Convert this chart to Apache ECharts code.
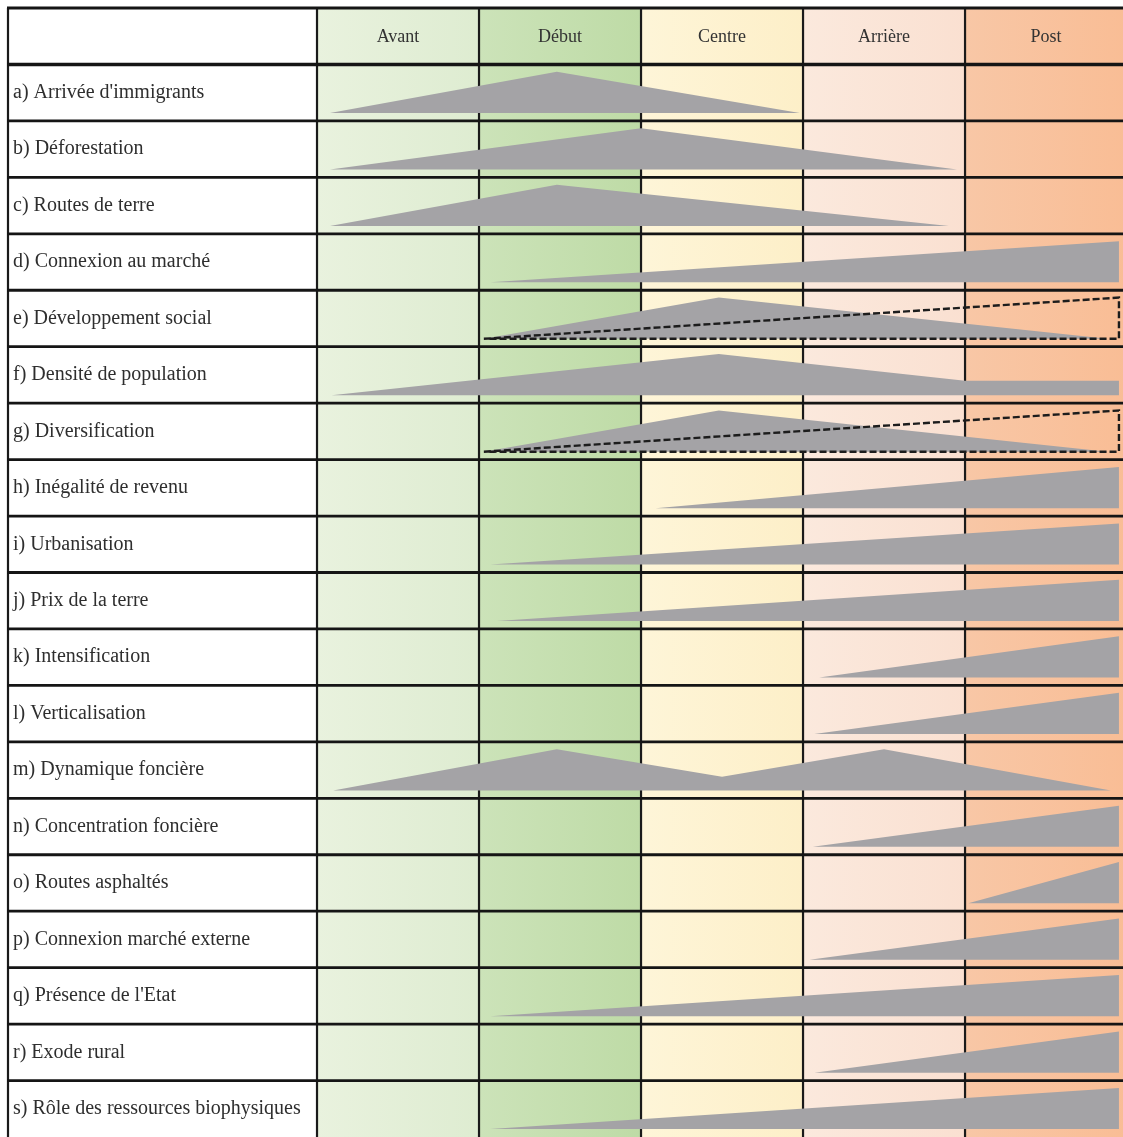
<!DOCTYPE html>
<html>
<head>
<meta charset="utf-8">
<script src="https://cdn.jsdelivr.net/npm/echarts@6/dist/echarts.min.js"></script>
<style>
html, body { margin: 0; padding: 0; background: #fff; }
#chart { width: 1123px; height: 1137px; }
</style>
</head>
<body>
<div id="chart"></div>
<script>
const phases = ["Avant", "Début", "Centre", "Arrière", "Post"];

const indicators = [
    "a) Arrivée d'immigrants",
    "b) Déforestation",
    "c) Routes de terre",
    "d) Connexion au marché",
    "e) Développement social",
    "f) Densité de population",
    "g) Diversification",
    "h) Inégalité de revenu",
    "i) Urbanisation",
    "j) Prix de la terre",
    "k) Intensification",
    "l) Verticalisation",
    "m) Dynamique foncière",
    "n) Concentration foncière",
    "o) Routes asphaltés",
    "p) Connexion marché externe",
    "q) Présence de l'Etat",
    "r) Exode rural",
    "s) Rôle des ressources biophysiques"
];

// [position along the phases (0..5), relative intensity (0..1)]
const profiles = [
    [[0.08, 0], [1.48, 1], [2.98, 0]],
    [[0.08, 0], [2.0, 1], [3.95, 0]],
    [[0.08, 0], [1.48, 1], [3.9, 0]],
    [[1.07, 0], [4.95, 1], [4.95, 0]],
    [[1.03, 0], [2.48, 1], [4.88, 0]],
    [[0.09, 0], [2.48, 1], [4.0, 0.35], [4.95, 0.35], [4.95, 0]],
    [[1.03, 0], [2.48, 1], [4.88, 0]],
    [[2.09, 0], [4.95, 1], [4.95, 0]],
    [[1.07, 0], [4.95, 1], [4.95, 0]],
    [[1.11, 0], [4.95, 1], [4.95, 0]],
    [[3.1, 0], [4.95, 1], [4.95, 0]],
    [[3.07, 0], [4.95, 1], [4.95, 0]],
    [[0.1, 0], [1.48, 1], [2.5, 0.33], [3.5, 1], [4.9, 0]],
    [[3.06, 0], [4.95, 1], [4.95, 0]],
    [[4.02, 0], [4.95, 1], [4.95, 0]],
    [[3.04, 0], [4.95, 1], [4.95, 0]],
    [[1.07, 0], [4.95, 1], [4.95, 0]],
    [[3.07, 0], [4.95, 1], [4.95, 0]],
    [[1.07, 0], [4.95, 1], [4.95, 0]]
];

// expected trend (dashed outline) for e) and g)
const dashed_rows = [4, 6];
const dashed_profile = [[1.03, 0], [4.95, 1], [4.95, 0]];

// styles
const phase_fills = [
    ["#e9f2de", "#deecd1"],
    ["#cce3b9", "#bedba6"],
    ["#fef5d8", "#fdefc8"],
    ["#fbe9dd", "#fae0d1"],
    ["#f8c7a6", "#f9bd95"]
];
const shape_color = "#a4a3a6";
const LABEL_W = 309 / 162;   // label column width, in phase units
const BASE = 0.86, PEAK = 0.13;
const n_rows = indicators.length + 1;
const serif = "'Liberation Serif', 'DejaVu Serif', serif";

function rowPoint(api, row, p){
    return api.coord([p[0], row + 1 + BASE - p[1] * (BASE - PEAK)]);
}

const chart = echarts.init(document.getElementById("chart"), null, { renderer: "canvas" });

chart.setOption({
    animation: false,
    grid: { left: 8, right: 0, top: 8, bottom: 0 },
    xAxis: { type: "value", min: -LABEL_W, max: 4.975, show: false },
    yAxis: { type: "value", min: 0, max: n_rows, inverse: true, show: false },
    series: [
        {   // phase columns
            type: "custom", z: 1, clip: false,
            data: phases.map((_, i) => [i]),
            renderItem(params, api){
                const i = api.value(0);
                const a = api.coord([i, 0]), b = api.coord([i + 1, n_rows]);
                return {
                    type: "rect",
                    shape: { x: a[0], y: a[1], width: b[0] - a[0], height: b[1] - a[1] },
                    style: {
                        fill: new echarts.graphic.LinearGradient(0, 0, 1, 0, [
                            { offset: 0, color: phase_fills[i][0] },
                            { offset: 1, color: phase_fills[i][1] }
                        ])
                    }
                };
            }
        },
        {   // vertical borders
            type: "custom", z: 2, clip: false,
            data: [-LABEL_W, 0, 1, 2, 3, 4].map((x) => [x]),
            renderItem(params, api){
                const a = api.coord([api.value(0), 0]), b = api.coord([api.value(0), n_rows]);
                return {
                    type: "line",
                    shape: { x1: a[0], y1: a[1], x2: b[0], y2: b[1] },
                    style: { stroke: "#1a1a1a", lineWidth: 2.2 }
                };
            }
        },
        {   // grey profiles
            type: "custom", z: 3, clip: false,
            data: profiles.map((_, i) => [i]),
            renderItem(params, api){
                const r = api.value(0);
                return {
                    type: "polygon",
                    shape: { points: profiles[r].map((p) => rowPoint(api, r, p)) },
                    style: { fill: shape_color }
                };
            }
        },
        {   // dashed outlines
            type: "custom", z: 4, clip: false,
            data: dashed_rows.map((r) => [r]),
            renderItem(params, api){
                const r = api.value(0);
                return {
                    type: "polygon",
                    shape: { points: dashed_profile.map((p) => rowPoint(api, r, p)) },
                    style: { fill: null, stroke: "#1c1c1c", lineWidth: 2.4, lineDash: [7, 3] }
                };
            }
        },
        {   // horizontal borders
            type: "custom", z: 5, clip: false,
            data: Array.from({ length: n_rows }, (_, i) => [i]),
            renderItem(params, api){
                const y = api.value(0);
                const a = api.coord([-LABEL_W, y]), b = api.coord([5, y]);
                return {
                    type: "line",
                    shape: { x1: a[0] - 1, y1: a[1], x2: b[0], y2: b[1] },
                    style: { stroke: "#151515", lineWidth: y === 1 ? 3.4 : 2.8 }
                };
            }
        },
        {   // header labels
            type: "custom", z: 6, clip: false,
            data: phases.map((_, i) => [i]),
            renderItem(params, api){
                const i = api.value(0);
                const c = api.coord([i + 0.5, 0.5]);
                return {
                    type: "text",
                    style: {
                        text: phases[i], x: c[0], y: c[1] + 1,
                        align: "center", verticalAlign: "middle",
                        font: "18px " + serif, fill: "#333"
                    }
                };
            }
        },
        {   // row labels
            type: "custom", z: 6, clip: false,
            data: indicators.map((_, i) => [i]),
            renderItem(params, api){
                const r = api.value(0);
                const c = api.coord([-LABEL_W, r + 1.5]);
                return {
                    type: "text",
                    style: {
                        text: indicators[r], x: c[0] + 5, y: c[1],
                        align: "left", verticalAlign: "middle",
                        font: "20px " + serif, fill: "#2e2e2e"
                    }
                };
            }
        }
    ]
});
</script>
</body>
</html>
